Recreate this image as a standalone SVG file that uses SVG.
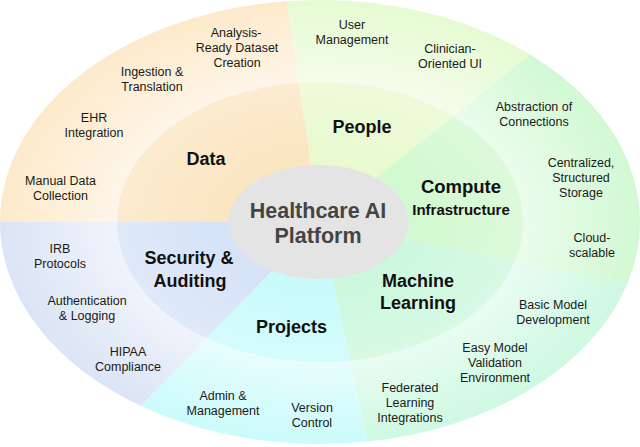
<svg xmlns="http://www.w3.org/2000/svg" width="640" height="447" viewBox="0 0 640 447">
<defs>
<radialGradient id="hl" gradientUnits="userSpaceOnUse" cx="320" cy="222" r="320" gradientTransform="matrix(1 0 0 0.69375 0 67.99)">
<stop offset="0.6" stop-color="#fff" stop-opacity="0.62"/>
<stop offset="0.8" stop-color="#fff" stop-opacity="0.28"/>
<stop offset="1" stop-color="#fff" stop-opacity="0"/>
</radialGradient>
<radialGradient id="hl2" gradientUnits="userSpaceOnUse" cx="320" cy="222" r="203" gradientTransform="matrix(1 0 0 0.6897 0 68.89)">
<stop offset="0.5" stop-color="#fff" stop-opacity="0"/>
<stop offset="1" stop-color="#fff" stop-opacity="0.22"/>
</radialGradient>
</defs>
<style>
.t{font-family:"Liberation Sans",Arial,Helvetica,sans-serif;font-size:12.5px;fill:#1a1a1a;text-anchor:middle}
.b{font-family:"Liberation Sans",Arial,Helvetica,sans-serif;font-size:18px;font-weight:bold;fill:#111;text-anchor:middle}
.c{font-family:"Liberation Sans",Arial,Helvetica,sans-serif;font-size:21.5px;font-weight:bold;fill:#444;text-anchor:middle}
</style>
<rect width="640" height="447" fill="#fff"/>
<g id="rings">
<path d="M320,222 L0,222 A320,222 0 0 1 286.56,1.22 Z" fill="#fdeacb"/>
<path d="M320,222 L286.56,1.22 A320,222 0 0 1 529.95,54.46 Z" fill="#e6fbd2"/>
<path d="M320,222 L529.95,54.46 A320,222 0 0 1 627.62,283.18 Z" fill="#d2f9d4"/>
<path d="M320,222 L627.62,283.18 A320,222 0 0 1 367.3,441.56 Z" fill="#cff9e2"/>
<path d="M320,222 L367.3,441.56 A320,222 0 0 1 141.06,406.04 Z" fill="#cbfbfb"/>
<path d="M320,222 L141.06,406.04 A320,222 0 0 1 0,222 Z" fill="#dce5f6"/>
<ellipse cx="320" cy="222" rx="320" ry="222" fill="url(#hl)"/>
<path d="M320,222 L117,222 A203,140 0 0 1 298.79,82.77 Z" fill="#fbe6c2"/>
<path d="M320,222 L298.79,82.77 A203,140 0 0 1 453.19,116.34 Z" fill="#e9fad0"/>
<path d="M320,222 L453.19,116.34 A203,140 0 0 1 515.14,260.58 Z" fill="#d3f9d0"/>
<path d="M320,222 L515.14,260.58 A203,140 0 0 1 350,360.46 Z" fill="#cdf8de"/>
<path d="M320,222 L350,360.46 A203,140 0 0 1 206.48,338.06 Z" fill="#c9fbfb"/>
<path d="M320,222 L206.48,338.06 A203,140 0 0 1 117,222 Z" fill="#d6e3f7"/>
<ellipse cx="320" cy="222" rx="203" ry="140" fill="url(#hl2)"/>
</g>
<g id="connectors"/>
<g id="center">
<ellipse cx="318.5" cy="222" rx="90" ry="57" fill="#e4e4e4"/>
<text class="c" x="318" y="218">Healthcare AI</text>
<text class="c" x="318" y="243">Platform</text>
</g>
<g id="data">
<text class="b" x="206" y="165">Data</text>
<text class="t" x="236" y="37">Analysis-</text>
<text class="t" x="237" y="52">Ready Dataset</text>
<text class="t" x="237" y="67">Creation</text>
<text class="t" x="152" y="76">Ingestion &amp;</text>
<text class="t" x="152" y="91">Translation</text>
<text class="t" x="94" y="122">EHR</text>
<text class="t" x="94" y="137">Integration</text>
<text class="t" x="60.5" y="185">Manual Data</text>
<text class="t" x="60.5" y="200">Collection</text>
</g>
<g id="people">
<text class="b" x="362" y="133">People</text>
<text class="t" x="352" y="29">User</text>
<text class="t" x="352" y="44">Management</text>
<text class="t" x="450" y="53">Clinician-</text>
<text class="t" x="450" y="68">Oriented UI</text>
</g>
<g id="compute">
<text class="b" x="461" y="193" style="font-size:18.5px">Compute</text>
<text class="b" x="461" y="215" style="font-size:15px">Infrastructure</text>
<text class="t" x="534" y="111">Abstraction of</text>
<text class="t" x="534" y="126">Connections</text>
<text class="t" x="581" y="167">Centralized,</text>
<text class="t" x="581" y="182">Structured</text>
<text class="t" x="581" y="197">Storage</text>
<text class="t" x="592" y="242">Cloud-</text>
<text class="t" x="592" y="257">scalable</text>
</g>
<g id="machine-learning">
<text class="b" x="418" y="287">Machine</text>
<text class="b" x="418" y="309">Learning</text>
<text class="t" x="553" y="309">Basic Model</text>
<text class="t" x="553" y="324">Development</text>
<text class="t" x="495" y="352">Easy Model</text>
<text class="t" x="495" y="367">Validation</text>
<text class="t" x="495" y="382">Environment</text>
<text class="t" x="410" y="392">Federated</text>
<text class="t" x="410" y="407">Learning</text>
<text class="t" x="410" y="422">Integrations</text>
</g>
<g id="projects">
<text class="b" x="291.5" y="333">Projects</text>
<text class="t" x="223" y="400">Admin &amp;</text>
<text class="t" x="223" y="415">Management</text>
<text class="t" x="312" y="412">Version</text>
<text class="t" x="312" y="427">Control</text>
</g>
<g id="security">
<text class="b" x="189" y="264">Security &amp;</text>
<text class="b" x="190" y="287">Auditing</text>
<text class="t" x="60" y="253">IRB</text>
<text class="t" x="60" y="268">Protocols</text>
<text class="t" x="87" y="305">Authentication</text>
<text class="t" x="87" y="320">&amp; Logging</text>
<text class="t" x="128" y="356">HIPAA</text>
<text class="t" x="128" y="371">Compliance</text>
</g>
</svg>
